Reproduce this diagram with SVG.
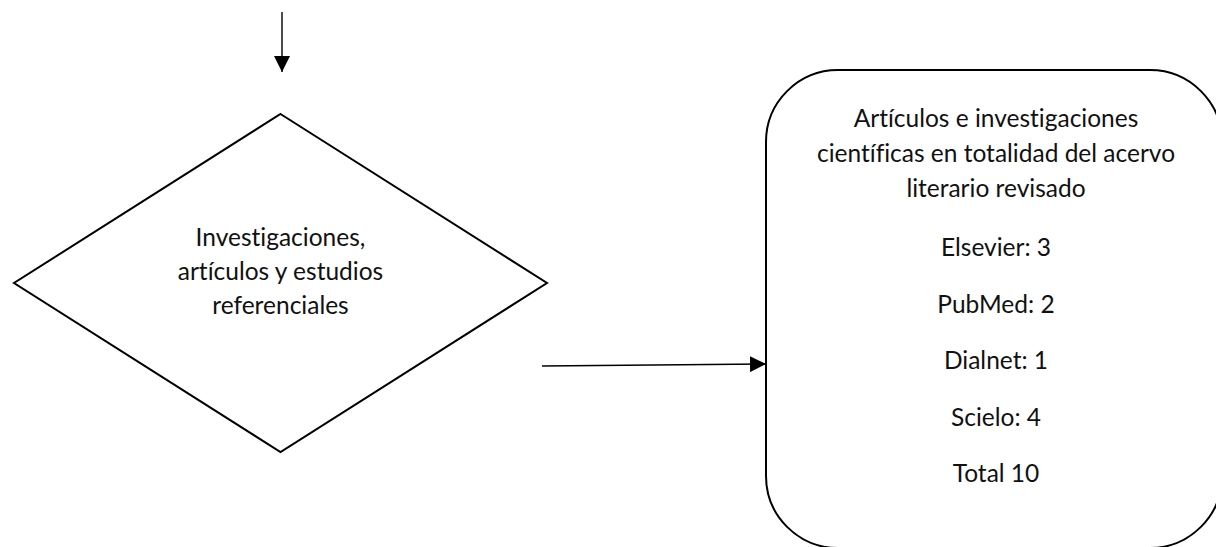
<svg xmlns="http://www.w3.org/2000/svg" width="1216" height="547" viewBox="0 0 1216 547">
<style>
.shape{fill:#fff;stroke:#000;stroke-width:2;}
.conn{stroke:#000;stroke-width:1.4;fill:none;}
text{font-family:Lato,"Open Sans","Liberation Sans",sans-serif;font-size:24.5px;fill:#111;text-anchor:middle;font-variant-ligatures:none;}
</style>
<defs>
<marker id="arr" markerUnits="userSpaceOnUse" markerWidth="16" markerHeight="16" refX="16" refY="8" orient="auto">
<path d="M0,0 L16,8 L0,16 Z" fill="#000"/>
</marker>
</defs>
<rect width="1216" height="547" fill="#fff"/>
<g id="connectors">
<line class="conn" x1="282" y1="12" x2="282" y2="72" marker-end="url(#arr)"/>
<line class="conn" x1="542" y1="366" x2="766" y2="364" marker-end="url(#arr)"/>
</g>
<g id="diamond">
<polygon class="shape" points="280.5,114 547,283 280.5,452 14,283"/>
<text x="280.5" y="246">Investigaciones,</text>
<text x="280.5" y="280">artículos y estudios</text>
<text x="280.5" y="314">referenciales</text>
</g>
<g id="result">
<rect class="shape" x="766" y="70" width="456" height="478" rx="72" ry="72"/>
<text x="996" y="127">Artículos e investigaciones</text>
<text x="996" y="162">científicas en totalidad del acervo</text>
<text x="996" y="197">literario revisado</text>
<text x="996" y="256">Elsevier: 3</text>
<text x="996" y="313">PubMed: 2</text>
<text x="996" y="369">Dialnet: 1</text>
<text x="996" y="426">Scielo: 4</text>
<text x="996" y="482">Total 10</text>
</g>
</svg>
